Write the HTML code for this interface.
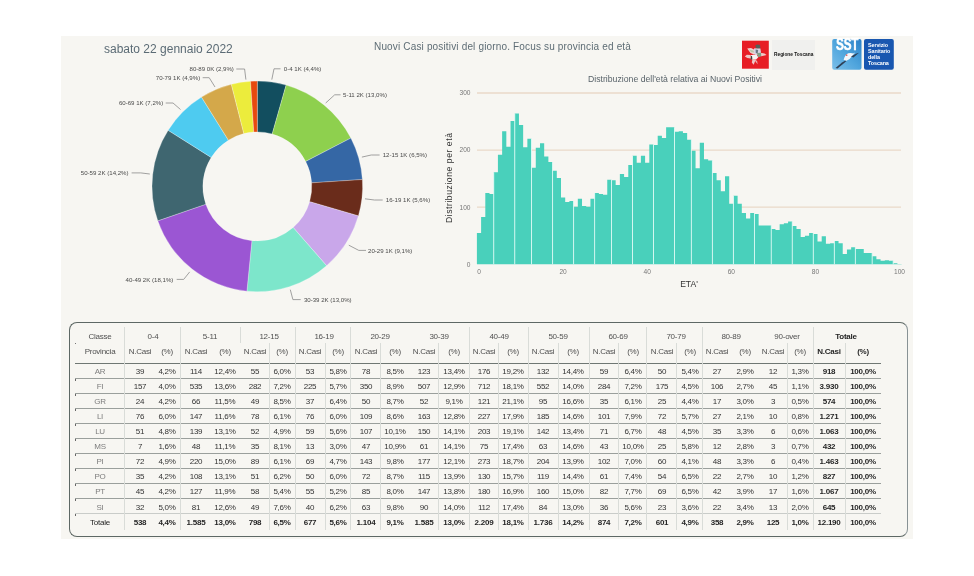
<!DOCTYPE html>
<html><head><meta charset="utf-8"><style>
*{margin:0;padding:0;box-sizing:border-box}
html,body{width:974px;height:576px;overflow:hidden;background:#fff;font-family:"Liberation Sans", "DejaVu Sans", sans-serif}
#panel{position:absolute;left:61px;top:35.7px;width:851.8px;height:503.7px;background:#f7f6f2}
.t{position:absolute;white-space:nowrap;line-height:1;will-change:transform}
.dl{font-family:"Liberation Sans", "DejaVu Sans", sans-serif;font-size:6.1px;fill:#4a4a4a;letter-spacing:0px}
.tk{font-family:"Liberation Sans", "DejaVu Sans", sans-serif;font-size:6.6px;fill:#777}
.ax{font-family:"Liberation Sans", "DejaVu Sans", sans-serif;font-size:8.6px;fill:#333}
#box{position:absolute;left:68.8px;top:322px;width:838.8px;height:215.3px;border:1.6px solid #5e6865;border-right-color:#889295;border-radius:8px}
.th,.td,.tp{position:absolute;will-change:transform;width:80px;height:12px;line-height:12px;text-align:center;white-space:nowrap;font-size:8px;letter-spacing:-0.25px}
.th{color:#505050}
.td{color:#333}
.tp{color:#7d7d7d}
.b{font-weight:bold;color:#262626}
.k{color:#1e1e1e}
.hl{position:absolute;left:75px;width:806px;height:1px;background:#9a9f9c}
.hl.dk{background:#6f7773}
.hl.lt{background:#c9ccc9}
.vl{position:absolute;width:1px;background:#d9dcd8}
</style></head><body>
<div id="panel"></div>
<div class="t" style="left:104.2px;top:43.2px;font-size:12px;color:#5b6b75">sabato 22 gennaio 2022</div>
<div class="t" style="left:374.3px;top:41.7px;font-size:10px;letter-spacing:0.16px;color:#5e6d75">Nuovi Casi positivi del giorno. Focus su provincia ed età</div>
<div class="t" style="left:588.2px;top:74.5px;font-size:8.7px;color:#59636a">Distribuzione dell'età relativa ai Nuovi Positivi</div>
<div id="box"></div>
<div class="hl dk" style="top:363px"></div><div class="hl" style="top:378px"></div><div class="hl" style="top:393px"></div><div class="hl" style="top:408px"></div><div class="hl" style="top:423px"></div><div class="hl" style="top:438px"></div><div class="hl" style="top:453px"></div><div class="hl" style="top:468px"></div><div class="hl" style="top:483px"></div><div class="hl" style="top:498px"></div><div class="hl lt" style="top:513px"></div><div style="position:absolute;left:75px;top:379px;width:1px;height:1.5px;background:#666"></div><div style="position:absolute;left:75px;top:394px;width:1px;height:1.5px;background:#666"></div><div style="position:absolute;left:75px;top:409px;width:1px;height:1.5px;background:#666"></div><div style="position:absolute;left:75px;top:424px;width:1px;height:1.5px;background:#666"></div><div style="position:absolute;left:75px;top:439px;width:1px;height:1.5px;background:#666"></div><div style="position:absolute;left:75px;top:454px;width:1px;height:1.5px;background:#666"></div><div style="position:absolute;left:75px;top:469px;width:1px;height:1.5px;background:#666"></div><div style="position:absolute;left:75px;top:484px;width:1px;height:1.5px;background:#666"></div><div style="position:absolute;left:75px;top:499px;width:1px;height:1.5px;background:#666"></div><div style="position:absolute;left:75px;top:514px;width:1px;height:1.5px;background:#666"></div><div style="position:absolute;left:75px;top:343px;width:1px;height:1px;background:#777"></div><div class="vl" style="left:124px;top:327px;height:203px"></div><div class="vl" style="left:180px;top:327px;height:203px"></div><div class="vl" style="left:295px;top:327px;height:203px"></div><div class="vl" style="left:350px;top:327px;height:203px"></div><div class="vl" style="left:469px;top:327px;height:203px"></div><div class="vl" style="left:528px;top:327px;height:203px"></div><div class="vl" style="left:589px;top:327px;height:203px"></div><div class="vl" style="left:646px;top:327px;height:203px"></div><div class="vl" style="left:702px;top:327px;height:203px"></div><div class="vl" style="left:813px;top:327px;height:203px"></div><div class="vl" style="left:269px;top:343px;height:187px"></div><div class="vl" style="left:325px;top:343px;height:187px"></div><div class="vl" style="left:380px;top:343px;height:187px"></div><div class="vl" style="left:438px;top:343px;height:187px"></div><div class="vl" style="left:498px;top:343px;height:187px"></div><div class="vl" style="left:558px;top:343px;height:187px"></div><div class="vl" style="left:618px;top:343px;height:187px"></div><div class="vl" style="left:676px;top:343px;height:187px"></div><div class="vl" style="left:787px;top:343px;height:187px"></div><div class="vl" style="left:845px;top:343px;height:187px"></div><div class="vl" style="left:240px;top:327px;height:16px"></div>
<svg width="974" height="576" viewBox="0 0 974 576" style="position:absolute;left:0;top:0;will-change:transform">
<g><path d="M257.30,81.10A105.3,105.3 0 0 1 286.13,85.12L272.22,133.98A54.5,54.5 0 0 0 257.30,131.90Z" fill="#124e5f" stroke="#ffffff" stroke-opacity="0.45" stroke-width="0.6"/><path d="M286.13,85.12A105.3,105.3 0 0 1 350.87,138.10L305.73,161.40A54.5,54.5 0 0 0 272.22,133.98Z" fill="#8ed04e" stroke="#ffffff" stroke-opacity="0.45" stroke-width="0.6"/><path d="M350.87,138.10A105.3,105.3 0 0 1 362.38,179.54L311.68,182.85A54.5,54.5 0 0 0 305.73,161.40Z" fill="#3567a5" stroke="#ffffff" stroke-opacity="0.45" stroke-width="0.6"/><path d="M362.38,179.54A105.3,105.3 0 0 1 358.39,215.88L309.62,201.66A54.5,54.5 0 0 0 311.68,182.85Z" fill="#6a2c1b" stroke="#ffffff" stroke-opacity="0.45" stroke-width="0.6"/><path d="M358.39,215.88A105.3,105.3 0 0 1 326.58,265.70L293.15,227.45A54.5,54.5 0 0 0 309.62,201.66Z" fill="#c9a7ea" stroke="#ffffff" stroke-opacity="0.45" stroke-width="0.6"/><path d="M326.58,265.70A105.3,105.3 0 0 1 246.90,291.18L251.92,240.63A54.5,54.5 0 0 0 293.15,227.45Z" fill="#7de6cb" stroke="#ffffff" stroke-opacity="0.45" stroke-width="0.6"/><path d="M246.90,291.18A105.3,105.3 0 0 1 157.79,220.84L205.80,204.23A54.5,54.5 0 0 0 251.92,240.63Z" fill="#9b56d3" stroke="#ffffff" stroke-opacity="0.45" stroke-width="0.6"/><path d="M157.79,220.84A105.3,105.3 0 0 1 168.17,130.33L211.17,157.38A54.5,54.5 0 0 0 205.80,204.23Z" fill="#3f6670" stroke="#ffffff" stroke-opacity="0.45" stroke-width="0.6"/><path d="M168.17,130.33A105.3,105.3 0 0 1 201.48,97.11L228.41,140.19A54.5,54.5 0 0 0 211.17,157.38Z" fill="#4ecbf0" stroke="#ffffff" stroke-opacity="0.45" stroke-width="0.6"/><path d="M201.48,97.11A105.3,105.3 0 0 1 231.35,84.35L243.87,133.58A54.5,54.5 0 0 0 228.41,140.19Z" fill="#d4a84a" stroke="#ffffff" stroke-opacity="0.45" stroke-width="0.6"/><path d="M231.35,84.35A105.3,105.3 0 0 1 250.52,81.32L253.79,132.01A54.5,54.5 0 0 0 243.87,133.58Z" fill="#ecec3c" stroke="#ffffff" stroke-opacity="0.45" stroke-width="0.6"/><path d="M250.52,81.32A105.3,105.3 0 0 1 257.30,81.10L257.30,131.90A54.5,54.5 0 0 0 253.79,132.01Z" fill="#e8490f" stroke="#ffffff" stroke-opacity="0.45" stroke-width="0.6"/></g>
<g><text x="283.8" y="71.0" class="dl">0-4 1K (4,4%)</text><polyline points="271.8,79.6 274.0,68.8 280.5,68.8" fill="none" stroke="#8a8a8a" stroke-width="0.8"/><text x="343.0" y="97.0" class="dl">5-11 2K (13,0%)</text><polyline points="325.7,103.0 334.7,94.8 340.5,94.8" fill="none" stroke="#8a8a8a" stroke-width="0.8"/><text x="382.7" y="157.2" class="dl">12-15 1K (6,5%)</text><polyline points="361.9,157.1 371.2,155.0 379.6,155.0" fill="none" stroke="#8a8a8a" stroke-width="0.8"/><text x="385.8" y="202.2" class="dl">16-19 1K (5,6%)</text><polyline points="365.0,198.8 374.4,200.0 382.7,200.0" fill="none" stroke="#8a8a8a" stroke-width="0.8"/><text x="368.0" y="252.6" class="dl">20-29 1K (9,1%)</text><polyline points="348.8,245.2 358.8,250.4 366.0,250.4" fill="none" stroke="#8a8a8a" stroke-width="0.8"/><text x="303.9" y="302.0" class="dl">30-39 2K (13,0%)</text><polyline points="290.3,289.7 292.9,299.6 300.7,299.6" fill="none" stroke="#8a8a8a" stroke-width="0.8"/><text x="125.6" y="281.6" class="dl">40-49 2K (18,1%)</text><polyline points="189.7,271.9 183.7,279.4 176.7,279.4" fill="none" stroke="#8a8a8a" stroke-width="0.8"/><text x="80.8" y="175.1" class="dl">50-59 2K (14,2%)</text><polyline points="149.8,174.0 140.7,172.9 131.6,172.9" fill="none" stroke="#8a8a8a" stroke-width="0.8"/><text x="118.9" y="105.2" class="dl">60-69 1K (7,2%)</text><polyline points="180.5,109.5 173.0,103.0 165.7,103.0" fill="none" stroke="#8a8a8a" stroke-width="0.8"/><text x="155.8" y="79.9" class="dl">70-79 1K (4,9%)</text><polyline points="215.0,87.0 209.2,77.7 202.7,77.7" fill="none" stroke="#8a8a8a" stroke-width="0.8"/><text x="189.5" y="71.2" class="dl">80-89 0K (2,9%)</text><polyline points="245.9,79.6 244.6,69.0 236.3,69.0" fill="none" stroke="#8a8a8a" stroke-width="0.8"/></g>
<g><line x1="477" y1="207.2" x2="901" y2="207.2" stroke="#ead9c8" stroke-width="1.3"/><line x1="477" y1="150.1" x2="901" y2="150.1" stroke="#ead9c8" stroke-width="1.3"/><line x1="477" y1="93.0" x2="901" y2="93.0" stroke="#ead9c8" stroke-width="1.3"/></g>
<g fill="#49d0bb"><path d="M476.90,264.30L476.90,232.90L481.10,232.90L481.10,216.91L485.31,216.91L485.31,192.93L489.51,192.93L489.51,194.07L493.72,194.07L493.72,172.37L497.92,172.37L497.92,154.67L502.13,154.67L502.13,131.26L506.33,131.26L506.33,146.67L510.54,146.67L510.54,120.98L514.75,120.98L514.75,113.56L518.95,113.56L518.95,124.98L523.15,124.98L523.15,147.25L527.36,147.25L527.36,138.68L531.57,138.68L531.56,167.80L535.77,167.80L535.77,147.82L539.98,147.82L539.98,143.25L544.18,143.25L544.18,156.38L548.38,156.38L548.38,162.09L552.59,162.09L552.59,170.66L556.79,170.66L556.79,178.08L561.00,178.08L561.00,197.49L565.21,197.49L565.20,202.06L569.41,202.06L569.41,200.92L573.62,200.92L573.62,206.63L577.82,206.63L577.82,198.63L582.02,198.63L582.02,206.06L586.23,206.06L586.23,206.63L590.44,206.63L590.43,198.63L594.64,198.63L594.64,192.93L598.85,192.93L598.85,194.07L603.05,194.07L603.05,194.64L607.25,194.64L607.25,179.79L611.46,179.79L611.46,180.36L615.67,180.36L615.66,184.93L619.87,184.93L619.87,174.08L624.08,174.08L624.08,176.94L628.28,176.94L628.28,164.95L632.49,164.95L632.49,155.81L636.69,155.81L636.69,162.66L640.89,162.66L640.89,155.81L645.10,155.81L645.10,162.66L649.30,162.66L649.30,144.39L653.51,144.39L653.51,144.96L657.72,144.96L657.71,135.82L661.92,135.82L661.92,138.11L666.12,138.11L666.12,127.26L670.33,127.26L670.33,127.26L674.53,127.26L674.53,131.83L678.74,131.83L678.74,131.26L682.95,131.26L682.94,132.97L687.15,132.97L687.15,139.82L691.36,139.82L691.36,150.67L695.56,150.67L695.56,168.37L699.76,168.37L699.76,142.68L703.97,142.68L703.97,159.24L708.18,159.24L708.17,160.38L712.38,160.38L712.38,172.94L716.59,172.94L716.59,180.36L720.79,180.36L720.79,191.21L725.00,191.21L725.00,176.37L729.20,176.37L729.20,203.77L733.41,203.77L733.40,195.78L737.61,195.78L737.61,203.77L741.81,203.77L741.82,212.91L746.02,212.91L746.02,218.62L750.23,218.62L750.22,212.91L754.43,212.91L754.43,214.05L758.64,214.05L758.63,225.47L762.84,225.47L762.84,225.47L767.04,225.47L767.04,225.47L771.25,225.47L771.25,228.90L775.46,228.90L775.45,230.04L779.66,230.04L779.66,224.33L783.87,224.33L783.87,223.19L788.07,223.19L788.07,221.48L792.27,221.48L792.27,226.04L796.48,226.04L796.48,228.90L800.69,228.90L800.68,236.89L804.89,236.89L804.89,235.75L809.10,235.75L809.10,232.90L813.30,232.90L813.30,234.04L817.50,234.04L817.50,241.46L821.71,241.46L821.71,236.32L825.92,236.32L825.91,243.74L830.12,243.74L830.12,243.17L834.33,243.17L834.33,240.89L838.53,240.89L838.53,243.17L842.74,243.17L842.73,254.02L846.94,254.02L846.94,249.45L851.15,249.45L851.14,247.17L855.35,247.17L855.35,248.88L859.55,248.88L859.56,248.88L863.76,248.88L863.76,252.88L867.97,252.88L867.96,252.88L872.17,252.88L872.17,256.31L876.38,256.31L876.38,259.16L880.58,259.16L880.58,260.87L884.78,260.87L884.78,260.30L888.99,260.30L888.99,260.87L893.20,260.87L893.19,263.16L897.40,263.16L897.40,263.96L901.61,263.96L901.61,264.30Z"/></g>
<g fill="#e2fbf6"><rect x="493.27" y="172.37" width="0.9" height="91.93"/><rect x="514.29" y="113.56" width="0.9" height="150.74"/><rect x="531.11" y="138.68" width="0.9" height="125.62"/><rect x="552.14" y="162.09" width="0.9" height="102.21"/><rect x="573.16" y="200.92" width="0.9" height="63.38"/><rect x="594.19" y="192.93" width="0.9" height="71.38"/><rect x="611.01" y="179.79" width="0.9" height="84.51"/><rect x="632.03" y="155.81" width="0.9" height="108.49"/><rect x="653.06" y="144.39" width="0.9" height="119.91"/><rect x="674.08" y="127.26" width="0.9" height="137.04"/><rect x="690.90" y="139.82" width="0.9" height="124.48"/><rect x="711.93" y="160.38" width="0.9" height="103.92"/><rect x="732.95" y="195.78" width="0.9" height="68.52"/><rect x="753.98" y="212.91" width="0.9" height="51.39"/><rect x="770.80" y="225.47" width="0.9" height="38.83"/><rect x="791.82" y="221.48" width="0.9" height="42.83"/><rect x="812.85" y="232.90" width="0.9" height="31.41"/><rect x="833.88" y="240.89" width="0.9" height="23.41"/><rect x="854.90" y="247.17" width="0.9" height="17.13"/><rect x="871.72" y="252.88" width="0.9" height="11.42"/><rect x="892.74" y="260.87" width="0.9" height="3.43"/></g>
<g><text x="470.5" y="266.6" class="tk" text-anchor="end">0</text><text x="470.5" y="209.5" class="tk" text-anchor="end">100</text><text x="470.5" y="152.4" class="tk" text-anchor="end">200</text><text x="470.5" y="95.3" class="tk" text-anchor="end">300</text><text x="479.0" y="274" class="tk" text-anchor="middle">0</text><text x="563.1" y="274" class="tk" text-anchor="middle">20</text><text x="647.2" y="274" class="tk" text-anchor="middle">40</text><text x="731.3" y="274" class="tk" text-anchor="middle">60</text><text x="815.4" y="274" class="tk" text-anchor="middle">80</text><text x="899.5" y="274" class="tk" text-anchor="middle">100</text></g>
<text x="689" y="287" class="ax" text-anchor="middle">ETA'</text>
<text transform="translate(451.5,177.8) rotate(-90)" class="ax" text-anchor="middle" letter-spacing="0.56">Distribuzione per età</text>
</svg>
<div class="th" style="left:60.0px;top:331.2px">Classe</div><div class="th" style="left:60.0px;top:345.8px">Provincia</div><div class="th" style="left:113.3px;top:331.2px">0-4</div><div class="th" style="left:99.5px;top:345.8px">N.Casi</div><div class="th" style="left:127.2px;top:345.8px">(%)</div><div class="th" style="left:170.2px;top:331.2px">5-11</div><div class="th" style="left:155.5px;top:345.8px">N.Casi</div><div class="th" style="left:184.8px;top:345.8px">(%)</div><div class="th" style="left:228.5px;top:331.2px">12-15</div><div class="th" style="left:214.6px;top:345.8px">N.Casi</div><div class="th" style="left:242.4px;top:345.8px">(%)</div><div class="th" style="left:284.2px;top:331.2px">16-19</div><div class="th" style="left:270.4px;top:345.8px">N.Casi</div><div class="th" style="left:298.1px;top:345.8px">(%)</div><div class="th" style="left:340.2px;top:331.2px">20-29</div><div class="th" style="left:325.6px;top:345.8px">N.Casi</div><div class="th" style="left:354.8px;top:345.8px">(%)</div><div class="th" style="left:399.0px;top:331.2px">30-39</div><div class="th" style="left:384.0px;top:345.8px">N.Casi</div><div class="th" style="left:414.0px;top:345.8px">(%)</div><div class="th" style="left:458.6px;top:331.2px">40-49</div><div class="th" style="left:443.8px;top:345.8px">N.Casi</div><div class="th" style="left:473.4px;top:345.8px">(%)</div><div class="th" style="left:518.2px;top:331.2px">50-59</div><div class="th" style="left:503.3px;top:345.8px">N.Casi</div><div class="th" style="left:533.1px;top:345.8px">(%)</div><div class="th" style="left:578.3px;top:331.2px">60-69</div><div class="th" style="left:563.9px;top:345.8px">N.Casi</div><div class="th" style="left:592.7px;top:345.8px">(%)</div><div class="th" style="left:636.2px;top:331.2px">70-79</div><div class="th" style="left:622.2px;top:345.8px">N.Casi</div><div class="th" style="left:650.2px;top:345.8px">(%)</div><div class="th" style="left:690.9px;top:331.2px">80-89</div><div class="th" style="left:677.0px;top:345.8px">N.Casi</div><div class="th" style="left:704.7px;top:345.8px">(%)</div><div class="th" style="left:746.6px;top:331.2px">90-over</div><div class="th" style="left:733.0px;top:345.8px">N.Casi</div><div class="th" style="left:760.2px;top:345.8px">(%)</div><div class="th b" style="left:806.3px;top:331.2px">Totale</div><div class="th b" style="left:789.4px;top:345.8px">N.Casi</div><div class="th b" style="left:823.3px;top:345.8px">(%)</div><div class="tp" style="left:60.0px;top:365.6px">AR</div><div class="td" style="left:99.5px;top:365.6px">39</div><div class="td" style="left:127.2px;top:365.6px">4,2%</div><div class="td" style="left:155.5px;top:365.6px">114</div><div class="td" style="left:184.8px;top:365.6px">12,4%</div><div class="td" style="left:214.6px;top:365.6px">55</div><div class="td" style="left:242.4px;top:365.6px">6,0%</div><div class="td" style="left:270.4px;top:365.6px">53</div><div class="td" style="left:298.1px;top:365.6px">5,8%</div><div class="td" style="left:325.6px;top:365.6px">78</div><div class="td" style="left:354.8px;top:365.6px">8,5%</div><div class="td" style="left:384.0px;top:365.6px">123</div><div class="td" style="left:414.0px;top:365.6px">13,4%</div><div class="td" style="left:443.8px;top:365.6px">176</div><div class="td" style="left:473.4px;top:365.6px">19,2%</div><div class="td" style="left:503.3px;top:365.6px">132</div><div class="td" style="left:533.1px;top:365.6px">14,4%</div><div class="td" style="left:563.9px;top:365.6px">59</div><div class="td" style="left:592.7px;top:365.6px">6,4%</div><div class="td" style="left:622.2px;top:365.6px">50</div><div class="td" style="left:650.2px;top:365.6px">5,4%</div><div class="td" style="left:677.0px;top:365.6px">27</div><div class="td" style="left:704.7px;top:365.6px">2,9%</div><div class="td" style="left:733.0px;top:365.6px">12</div><div class="td" style="left:760.2px;top:365.6px">1,3%</div><div class="td b" style="left:789.4px;top:365.6px">918</div><div class="td b" style="left:823.3px;top:365.6px">100,0%</div><div class="tp" style="left:60.0px;top:380.7px">FI</div><div class="td" style="left:99.5px;top:380.7px">157</div><div class="td" style="left:127.2px;top:380.7px">4,0%</div><div class="td" style="left:155.5px;top:380.7px">535</div><div class="td" style="left:184.8px;top:380.7px">13,6%</div><div class="td" style="left:214.6px;top:380.7px">282</div><div class="td" style="left:242.4px;top:380.7px">7,2%</div><div class="td" style="left:270.4px;top:380.7px">225</div><div class="td" style="left:298.1px;top:380.7px">5,7%</div><div class="td" style="left:325.6px;top:380.7px">350</div><div class="td" style="left:354.8px;top:380.7px">8,9%</div><div class="td" style="left:384.0px;top:380.7px">507</div><div class="td" style="left:414.0px;top:380.7px">12,9%</div><div class="td" style="left:443.8px;top:380.7px">712</div><div class="td" style="left:473.4px;top:380.7px">18,1%</div><div class="td" style="left:503.3px;top:380.7px">552</div><div class="td" style="left:533.1px;top:380.7px">14,0%</div><div class="td" style="left:563.9px;top:380.7px">284</div><div class="td" style="left:592.7px;top:380.7px">7,2%</div><div class="td" style="left:622.2px;top:380.7px">175</div><div class="td" style="left:650.2px;top:380.7px">4,5%</div><div class="td" style="left:677.0px;top:380.7px">106</div><div class="td" style="left:704.7px;top:380.7px">2,7%</div><div class="td" style="left:733.0px;top:380.7px">45</div><div class="td" style="left:760.2px;top:380.7px">1,1%</div><div class="td b" style="left:789.4px;top:380.7px">3.930</div><div class="td b" style="left:823.3px;top:380.7px">100,0%</div><div class="tp" style="left:60.0px;top:395.8px">GR</div><div class="td" style="left:99.5px;top:395.8px">24</div><div class="td" style="left:127.2px;top:395.8px">4,2%</div><div class="td" style="left:155.5px;top:395.8px">66</div><div class="td" style="left:184.8px;top:395.8px">11,5%</div><div class="td" style="left:214.6px;top:395.8px">49</div><div class="td" style="left:242.4px;top:395.8px">8,5%</div><div class="td" style="left:270.4px;top:395.8px">37</div><div class="td" style="left:298.1px;top:395.8px">6,4%</div><div class="td" style="left:325.6px;top:395.8px">50</div><div class="td" style="left:354.8px;top:395.8px">8,7%</div><div class="td" style="left:384.0px;top:395.8px">52</div><div class="td" style="left:414.0px;top:395.8px">9,1%</div><div class="td" style="left:443.8px;top:395.8px">121</div><div class="td" style="left:473.4px;top:395.8px">21,1%</div><div class="td" style="left:503.3px;top:395.8px">95</div><div class="td" style="left:533.1px;top:395.8px">16,6%</div><div class="td" style="left:563.9px;top:395.8px">35</div><div class="td" style="left:592.7px;top:395.8px">6,1%</div><div class="td" style="left:622.2px;top:395.8px">25</div><div class="td" style="left:650.2px;top:395.8px">4,4%</div><div class="td" style="left:677.0px;top:395.8px">17</div><div class="td" style="left:704.7px;top:395.8px">3,0%</div><div class="td" style="left:733.0px;top:395.8px">3</div><div class="td" style="left:760.2px;top:395.8px">0,5%</div><div class="td b" style="left:789.4px;top:395.8px">574</div><div class="td b" style="left:823.3px;top:395.8px">100,0%</div><div class="tp" style="left:60.0px;top:410.9px">LI</div><div class="td" style="left:99.5px;top:410.9px">76</div><div class="td" style="left:127.2px;top:410.9px">6,0%</div><div class="td" style="left:155.5px;top:410.9px">147</div><div class="td" style="left:184.8px;top:410.9px">11,6%</div><div class="td" style="left:214.6px;top:410.9px">78</div><div class="td" style="left:242.4px;top:410.9px">6,1%</div><div class="td" style="left:270.4px;top:410.9px">76</div><div class="td" style="left:298.1px;top:410.9px">6,0%</div><div class="td" style="left:325.6px;top:410.9px">109</div><div class="td" style="left:354.8px;top:410.9px">8,6%</div><div class="td" style="left:384.0px;top:410.9px">163</div><div class="td" style="left:414.0px;top:410.9px">12,8%</div><div class="td" style="left:443.8px;top:410.9px">227</div><div class="td" style="left:473.4px;top:410.9px">17,9%</div><div class="td" style="left:503.3px;top:410.9px">185</div><div class="td" style="left:533.1px;top:410.9px">14,6%</div><div class="td" style="left:563.9px;top:410.9px">101</div><div class="td" style="left:592.7px;top:410.9px">7,9%</div><div class="td" style="left:622.2px;top:410.9px">72</div><div class="td" style="left:650.2px;top:410.9px">5,7%</div><div class="td" style="left:677.0px;top:410.9px">27</div><div class="td" style="left:704.7px;top:410.9px">2,1%</div><div class="td" style="left:733.0px;top:410.9px">10</div><div class="td" style="left:760.2px;top:410.9px">0,8%</div><div class="td b" style="left:789.4px;top:410.9px">1.271</div><div class="td b" style="left:823.3px;top:410.9px">100,0%</div><div class="tp" style="left:60.0px;top:426.0px">LU</div><div class="td" style="left:99.5px;top:426.0px">51</div><div class="td" style="left:127.2px;top:426.0px">4,8%</div><div class="td" style="left:155.5px;top:426.0px">139</div><div class="td" style="left:184.8px;top:426.0px">13,1%</div><div class="td" style="left:214.6px;top:426.0px">52</div><div class="td" style="left:242.4px;top:426.0px">4,9%</div><div class="td" style="left:270.4px;top:426.0px">59</div><div class="td" style="left:298.1px;top:426.0px">5,6%</div><div class="td" style="left:325.6px;top:426.0px">107</div><div class="td" style="left:354.8px;top:426.0px">10,1%</div><div class="td" style="left:384.0px;top:426.0px">150</div><div class="td" style="left:414.0px;top:426.0px">14,1%</div><div class="td" style="left:443.8px;top:426.0px">203</div><div class="td" style="left:473.4px;top:426.0px">19,1%</div><div class="td" style="left:503.3px;top:426.0px">142</div><div class="td" style="left:533.1px;top:426.0px">13,4%</div><div class="td" style="left:563.9px;top:426.0px">71</div><div class="td" style="left:592.7px;top:426.0px">6,7%</div><div class="td" style="left:622.2px;top:426.0px">48</div><div class="td" style="left:650.2px;top:426.0px">4,5%</div><div class="td" style="left:677.0px;top:426.0px">35</div><div class="td" style="left:704.7px;top:426.0px">3,3%</div><div class="td" style="left:733.0px;top:426.0px">6</div><div class="td" style="left:760.2px;top:426.0px">0,6%</div><div class="td b" style="left:789.4px;top:426.0px">1.063</div><div class="td b" style="left:823.3px;top:426.0px">100,0%</div><div class="tp" style="left:60.0px;top:441.1px">MS</div><div class="td" style="left:99.5px;top:441.1px">7</div><div class="td" style="left:127.2px;top:441.1px">1,6%</div><div class="td" style="left:155.5px;top:441.1px">48</div><div class="td" style="left:184.8px;top:441.1px">11,1%</div><div class="td" style="left:214.6px;top:441.1px">35</div><div class="td" style="left:242.4px;top:441.1px">8,1%</div><div class="td" style="left:270.4px;top:441.1px">13</div><div class="td" style="left:298.1px;top:441.1px">3,0%</div><div class="td" style="left:325.6px;top:441.1px">47</div><div class="td" style="left:354.8px;top:441.1px">10,9%</div><div class="td" style="left:384.0px;top:441.1px">61</div><div class="td" style="left:414.0px;top:441.1px">14,1%</div><div class="td" style="left:443.8px;top:441.1px">75</div><div class="td" style="left:473.4px;top:441.1px">17,4%</div><div class="td" style="left:503.3px;top:441.1px">63</div><div class="td" style="left:533.1px;top:441.1px">14,6%</div><div class="td" style="left:563.9px;top:441.1px">43</div><div class="td" style="left:592.7px;top:441.1px">10,0%</div><div class="td" style="left:622.2px;top:441.1px">25</div><div class="td" style="left:650.2px;top:441.1px">5,8%</div><div class="td" style="left:677.0px;top:441.1px">12</div><div class="td" style="left:704.7px;top:441.1px">2,8%</div><div class="td" style="left:733.0px;top:441.1px">3</div><div class="td" style="left:760.2px;top:441.1px">0,7%</div><div class="td b" style="left:789.4px;top:441.1px">432</div><div class="td b" style="left:823.3px;top:441.1px">100,0%</div><div class="tp" style="left:60.0px;top:456.2px">PI</div><div class="td" style="left:99.5px;top:456.2px">72</div><div class="td" style="left:127.2px;top:456.2px">4,9%</div><div class="td" style="left:155.5px;top:456.2px">220</div><div class="td" style="left:184.8px;top:456.2px">15,0%</div><div class="td" style="left:214.6px;top:456.2px">89</div><div class="td" style="left:242.4px;top:456.2px">6,1%</div><div class="td" style="left:270.4px;top:456.2px">69</div><div class="td" style="left:298.1px;top:456.2px">4,7%</div><div class="td" style="left:325.6px;top:456.2px">143</div><div class="td" style="left:354.8px;top:456.2px">9,8%</div><div class="td" style="left:384.0px;top:456.2px">177</div><div class="td" style="left:414.0px;top:456.2px">12,1%</div><div class="td" style="left:443.8px;top:456.2px">273</div><div class="td" style="left:473.4px;top:456.2px">18,7%</div><div class="td" style="left:503.3px;top:456.2px">204</div><div class="td" style="left:533.1px;top:456.2px">13,9%</div><div class="td" style="left:563.9px;top:456.2px">102</div><div class="td" style="left:592.7px;top:456.2px">7,0%</div><div class="td" style="left:622.2px;top:456.2px">60</div><div class="td" style="left:650.2px;top:456.2px">4,1%</div><div class="td" style="left:677.0px;top:456.2px">48</div><div class="td" style="left:704.7px;top:456.2px">3,3%</div><div class="td" style="left:733.0px;top:456.2px">6</div><div class="td" style="left:760.2px;top:456.2px">0,4%</div><div class="td b" style="left:789.4px;top:456.2px">1.463</div><div class="td b" style="left:823.3px;top:456.2px">100,0%</div><div class="tp" style="left:60.0px;top:471.3px">PO</div><div class="td" style="left:99.5px;top:471.3px">35</div><div class="td" style="left:127.2px;top:471.3px">4,2%</div><div class="td" style="left:155.5px;top:471.3px">108</div><div class="td" style="left:184.8px;top:471.3px">13,1%</div><div class="td" style="left:214.6px;top:471.3px">51</div><div class="td" style="left:242.4px;top:471.3px">6,2%</div><div class="td" style="left:270.4px;top:471.3px">50</div><div class="td" style="left:298.1px;top:471.3px">6,0%</div><div class="td" style="left:325.6px;top:471.3px">72</div><div class="td" style="left:354.8px;top:471.3px">8,7%</div><div class="td" style="left:384.0px;top:471.3px">115</div><div class="td" style="left:414.0px;top:471.3px">13,9%</div><div class="td" style="left:443.8px;top:471.3px">130</div><div class="td" style="left:473.4px;top:471.3px">15,7%</div><div class="td" style="left:503.3px;top:471.3px">119</div><div class="td" style="left:533.1px;top:471.3px">14,4%</div><div class="td" style="left:563.9px;top:471.3px">61</div><div class="td" style="left:592.7px;top:471.3px">7,4%</div><div class="td" style="left:622.2px;top:471.3px">54</div><div class="td" style="left:650.2px;top:471.3px">6,5%</div><div class="td" style="left:677.0px;top:471.3px">22</div><div class="td" style="left:704.7px;top:471.3px">2,7%</div><div class="td" style="left:733.0px;top:471.3px">10</div><div class="td" style="left:760.2px;top:471.3px">1,2%</div><div class="td b" style="left:789.4px;top:471.3px">827</div><div class="td b" style="left:823.3px;top:471.3px">100,0%</div><div class="tp" style="left:60.0px;top:486.4px">PT</div><div class="td" style="left:99.5px;top:486.4px">45</div><div class="td" style="left:127.2px;top:486.4px">4,2%</div><div class="td" style="left:155.5px;top:486.4px">127</div><div class="td" style="left:184.8px;top:486.4px">11,9%</div><div class="td" style="left:214.6px;top:486.4px">58</div><div class="td" style="left:242.4px;top:486.4px">5,4%</div><div class="td" style="left:270.4px;top:486.4px">55</div><div class="td" style="left:298.1px;top:486.4px">5,2%</div><div class="td" style="left:325.6px;top:486.4px">85</div><div class="td" style="left:354.8px;top:486.4px">8,0%</div><div class="td" style="left:384.0px;top:486.4px">147</div><div class="td" style="left:414.0px;top:486.4px">13,8%</div><div class="td" style="left:443.8px;top:486.4px">180</div><div class="td" style="left:473.4px;top:486.4px">16,9%</div><div class="td" style="left:503.3px;top:486.4px">160</div><div class="td" style="left:533.1px;top:486.4px">15,0%</div><div class="td" style="left:563.9px;top:486.4px">82</div><div class="td" style="left:592.7px;top:486.4px">7,7%</div><div class="td" style="left:622.2px;top:486.4px">69</div><div class="td" style="left:650.2px;top:486.4px">6,5%</div><div class="td" style="left:677.0px;top:486.4px">42</div><div class="td" style="left:704.7px;top:486.4px">3,9%</div><div class="td" style="left:733.0px;top:486.4px">17</div><div class="td" style="left:760.2px;top:486.4px">1,6%</div><div class="td b" style="left:789.4px;top:486.4px">1.067</div><div class="td b" style="left:823.3px;top:486.4px">100,0%</div><div class="tp" style="left:60.0px;top:501.5px">SI</div><div class="td" style="left:99.5px;top:501.5px">32</div><div class="td" style="left:127.2px;top:501.5px">5,0%</div><div class="td" style="left:155.5px;top:501.5px">81</div><div class="td" style="left:184.8px;top:501.5px">12,6%</div><div class="td" style="left:214.6px;top:501.5px">49</div><div class="td" style="left:242.4px;top:501.5px">7,6%</div><div class="td" style="left:270.4px;top:501.5px">40</div><div class="td" style="left:298.1px;top:501.5px">6,2%</div><div class="td" style="left:325.6px;top:501.5px">63</div><div class="td" style="left:354.8px;top:501.5px">9,8%</div><div class="td" style="left:384.0px;top:501.5px">90</div><div class="td" style="left:414.0px;top:501.5px">14,0%</div><div class="td" style="left:443.8px;top:501.5px">112</div><div class="td" style="left:473.4px;top:501.5px">17,4%</div><div class="td" style="left:503.3px;top:501.5px">84</div><div class="td" style="left:533.1px;top:501.5px">13,0%</div><div class="td" style="left:563.9px;top:501.5px">36</div><div class="td" style="left:592.7px;top:501.5px">5,6%</div><div class="td" style="left:622.2px;top:501.5px">23</div><div class="td" style="left:650.2px;top:501.5px">3,6%</div><div class="td" style="left:677.0px;top:501.5px">22</div><div class="td" style="left:704.7px;top:501.5px">3,4%</div><div class="td" style="left:733.0px;top:501.5px">13</div><div class="td" style="left:760.2px;top:501.5px">2,0%</div><div class="td b" style="left:789.4px;top:501.5px">645</div><div class="td b" style="left:823.3px;top:501.5px">100,0%</div><div class="tp k" style="left:60.0px;top:516.6px">Totale</div><div class="td b" style="left:99.5px;top:516.6px">538</div><div class="td b" style="left:127.2px;top:516.6px">4,4%</div><div class="td b" style="left:155.5px;top:516.6px">1.585</div><div class="td b" style="left:184.8px;top:516.6px">13,0%</div><div class="td b" style="left:214.6px;top:516.6px">798</div><div class="td b" style="left:242.4px;top:516.6px">6,5%</div><div class="td b" style="left:270.4px;top:516.6px">677</div><div class="td b" style="left:298.1px;top:516.6px">5,6%</div><div class="td b" style="left:325.6px;top:516.6px">1.104</div><div class="td b" style="left:354.8px;top:516.6px">9,1%</div><div class="td b" style="left:384.0px;top:516.6px">1.585</div><div class="td b" style="left:414.0px;top:516.6px">13,0%</div><div class="td b" style="left:443.8px;top:516.6px">2.209</div><div class="td b" style="left:473.4px;top:516.6px">18,1%</div><div class="td b" style="left:503.3px;top:516.6px">1.736</div><div class="td b" style="left:533.1px;top:516.6px">14,2%</div><div class="td b" style="left:563.9px;top:516.6px">874</div><div class="td b" style="left:592.7px;top:516.6px">7,2%</div><div class="td b" style="left:622.2px;top:516.6px">601</div><div class="td b" style="left:650.2px;top:516.6px">4,9%</div><div class="td b" style="left:677.0px;top:516.6px">358</div><div class="td b" style="left:704.7px;top:516.6px">2,9%</div><div class="td b" style="left:733.0px;top:516.6px">125</div><div class="td b" style="left:760.2px;top:516.6px">1,0%</div><div class="td b" style="left:789.4px;top:516.6px">12.190</div><div class="td b" style="left:823.3px;top:516.6px">100,0%</div>
<!-- logos -->
<div style="position:absolute;left:771.5px;top:39.5px;width:43px;height:30px;background:#f0f0ee"></div>
<svg width="974" height="576" viewBox="0 0 974 576" style="position:absolute;left:0;top:0">
<rect x="742" y="40.7" width="26.8" height="28" fill="#e71d25"/>
<g>
<path d="M747.2,48.4 L751,48 L755,50 L757.5,52.8 L754,54.4 L750.5,53 Z" fill="#f1d3d3"/>
<path d="M748.8,49.6 L753.2,50.6 L754.6,52.6 L751.4,52.2 Z" fill="#b8c9a8"/>
<path d="M755.4,45.2 Q757.6,43.9 760,45 L760.4,48.2 L757.6,49 L755.8,47.8 Z" fill="#55605a"/>
<path d="M754.2,48.3 L757.6,48.6 L760.4,48.6 L761,52.6 L758.6,55 L755,54.8 L753.8,51.8 Z" fill="#d9d4e4"/>
<path d="M755.6,49.6 L758.2,50 L757.6,53.5 L755.8,53 Z" fill="#6b7782"/>
<path d="M756.8,53 L761.2,52.8 L761.4,56.2 L758.2,57.2 Z" fill="#7fa287"/>
<path d="M761,53 L764.5,53.4 L766.6,55 L763.5,55.8 L761.2,56.2 Z" fill="#f0caca"/>
<path d="M751,55 L756.6,54.6 L758.2,57.2 L756.2,59.6 L751.8,59.8 L750.4,57.6 Z" fill="#f7f4f2"/>
<path d="M750.4,56.6 L752,55.8 L752.4,59.8 L750.8,59.4 Z" fill="#3a423c"/>
<path d="M750.6,55 L746.8,54.8 L744.8,56.6 L747.4,58 L750.6,58.4 Z" fill="#ecc4c4"/>
<path d="M752.4,59.6 L751.8,62.6 L753.6,64.8 L754.8,62 L755.6,59.8 Z" fill="#eec6c6"/>
<path d="M755.6,59.4 L757.2,61.6 L757.6,64.2 L756.2,62.6 L754.8,60.6 Z" fill="#e6b4b4"/>
</g>
<defs><linearGradient id="sstg" x1="1" y1="0" x2="0" y2="1"><stop offset="0" stop-color="#2a80c8"/><stop offset="0.5" stop-color="#4ea4dc"/><stop offset="1" stop-color="#7cc0ea"/></linearGradient></defs>
<rect x="832.2" y="39" width="29.3" height="30.8" rx="2" fill="url(#sstg)"/>
<rect x="864" y="39" width="29.8" height="30.8" rx="2" fill="#1957b0"/>
<path d="M835.5,68 L842,62.5 L845.5,60.4 L846.5,61 L843,64 L837.5,68.4 Z" fill="#2e3f55"/>
<path d="M843.6,59.8 Q845,54.5 848.2,53.2 Q851.5,52.4 853.2,53.6 L855.2,52.6 L851.6,56.8 Q849.6,60 846.4,60.8 Z" fill="#f4f7fb"/>
<path d="M851,56.5 L856.5,53.5 L859,52.8 L853.4,57.5 Z" fill="#2e3f55"/>
<circle cx="846.6" cy="55.2" r="0.9" fill="#e06a6a"/>
</svg>
<div class="t" style="left:774px;top:52.8px;font-size:4.8px;font-weight:bold;color:#111">Regione Toscana</div>
<div class="t" style="left:836.4px;top:36.2px;font-size:16.5px;font-weight:bold;color:#fff;transform:scaleX(0.71);transform-origin:0 0;letter-spacing:-0.3px;-webkit-text-stroke:0.6px #fff">SST</div>
<div class="t" style="left:867.8px;top:42.3px;font-size:5.4px;font-weight:bold;color:#fff;line-height:6.1px;letter-spacing:-0.1px">Servizio<br>Sanitario<br>della<br>Toscana</div>
</body></html>
